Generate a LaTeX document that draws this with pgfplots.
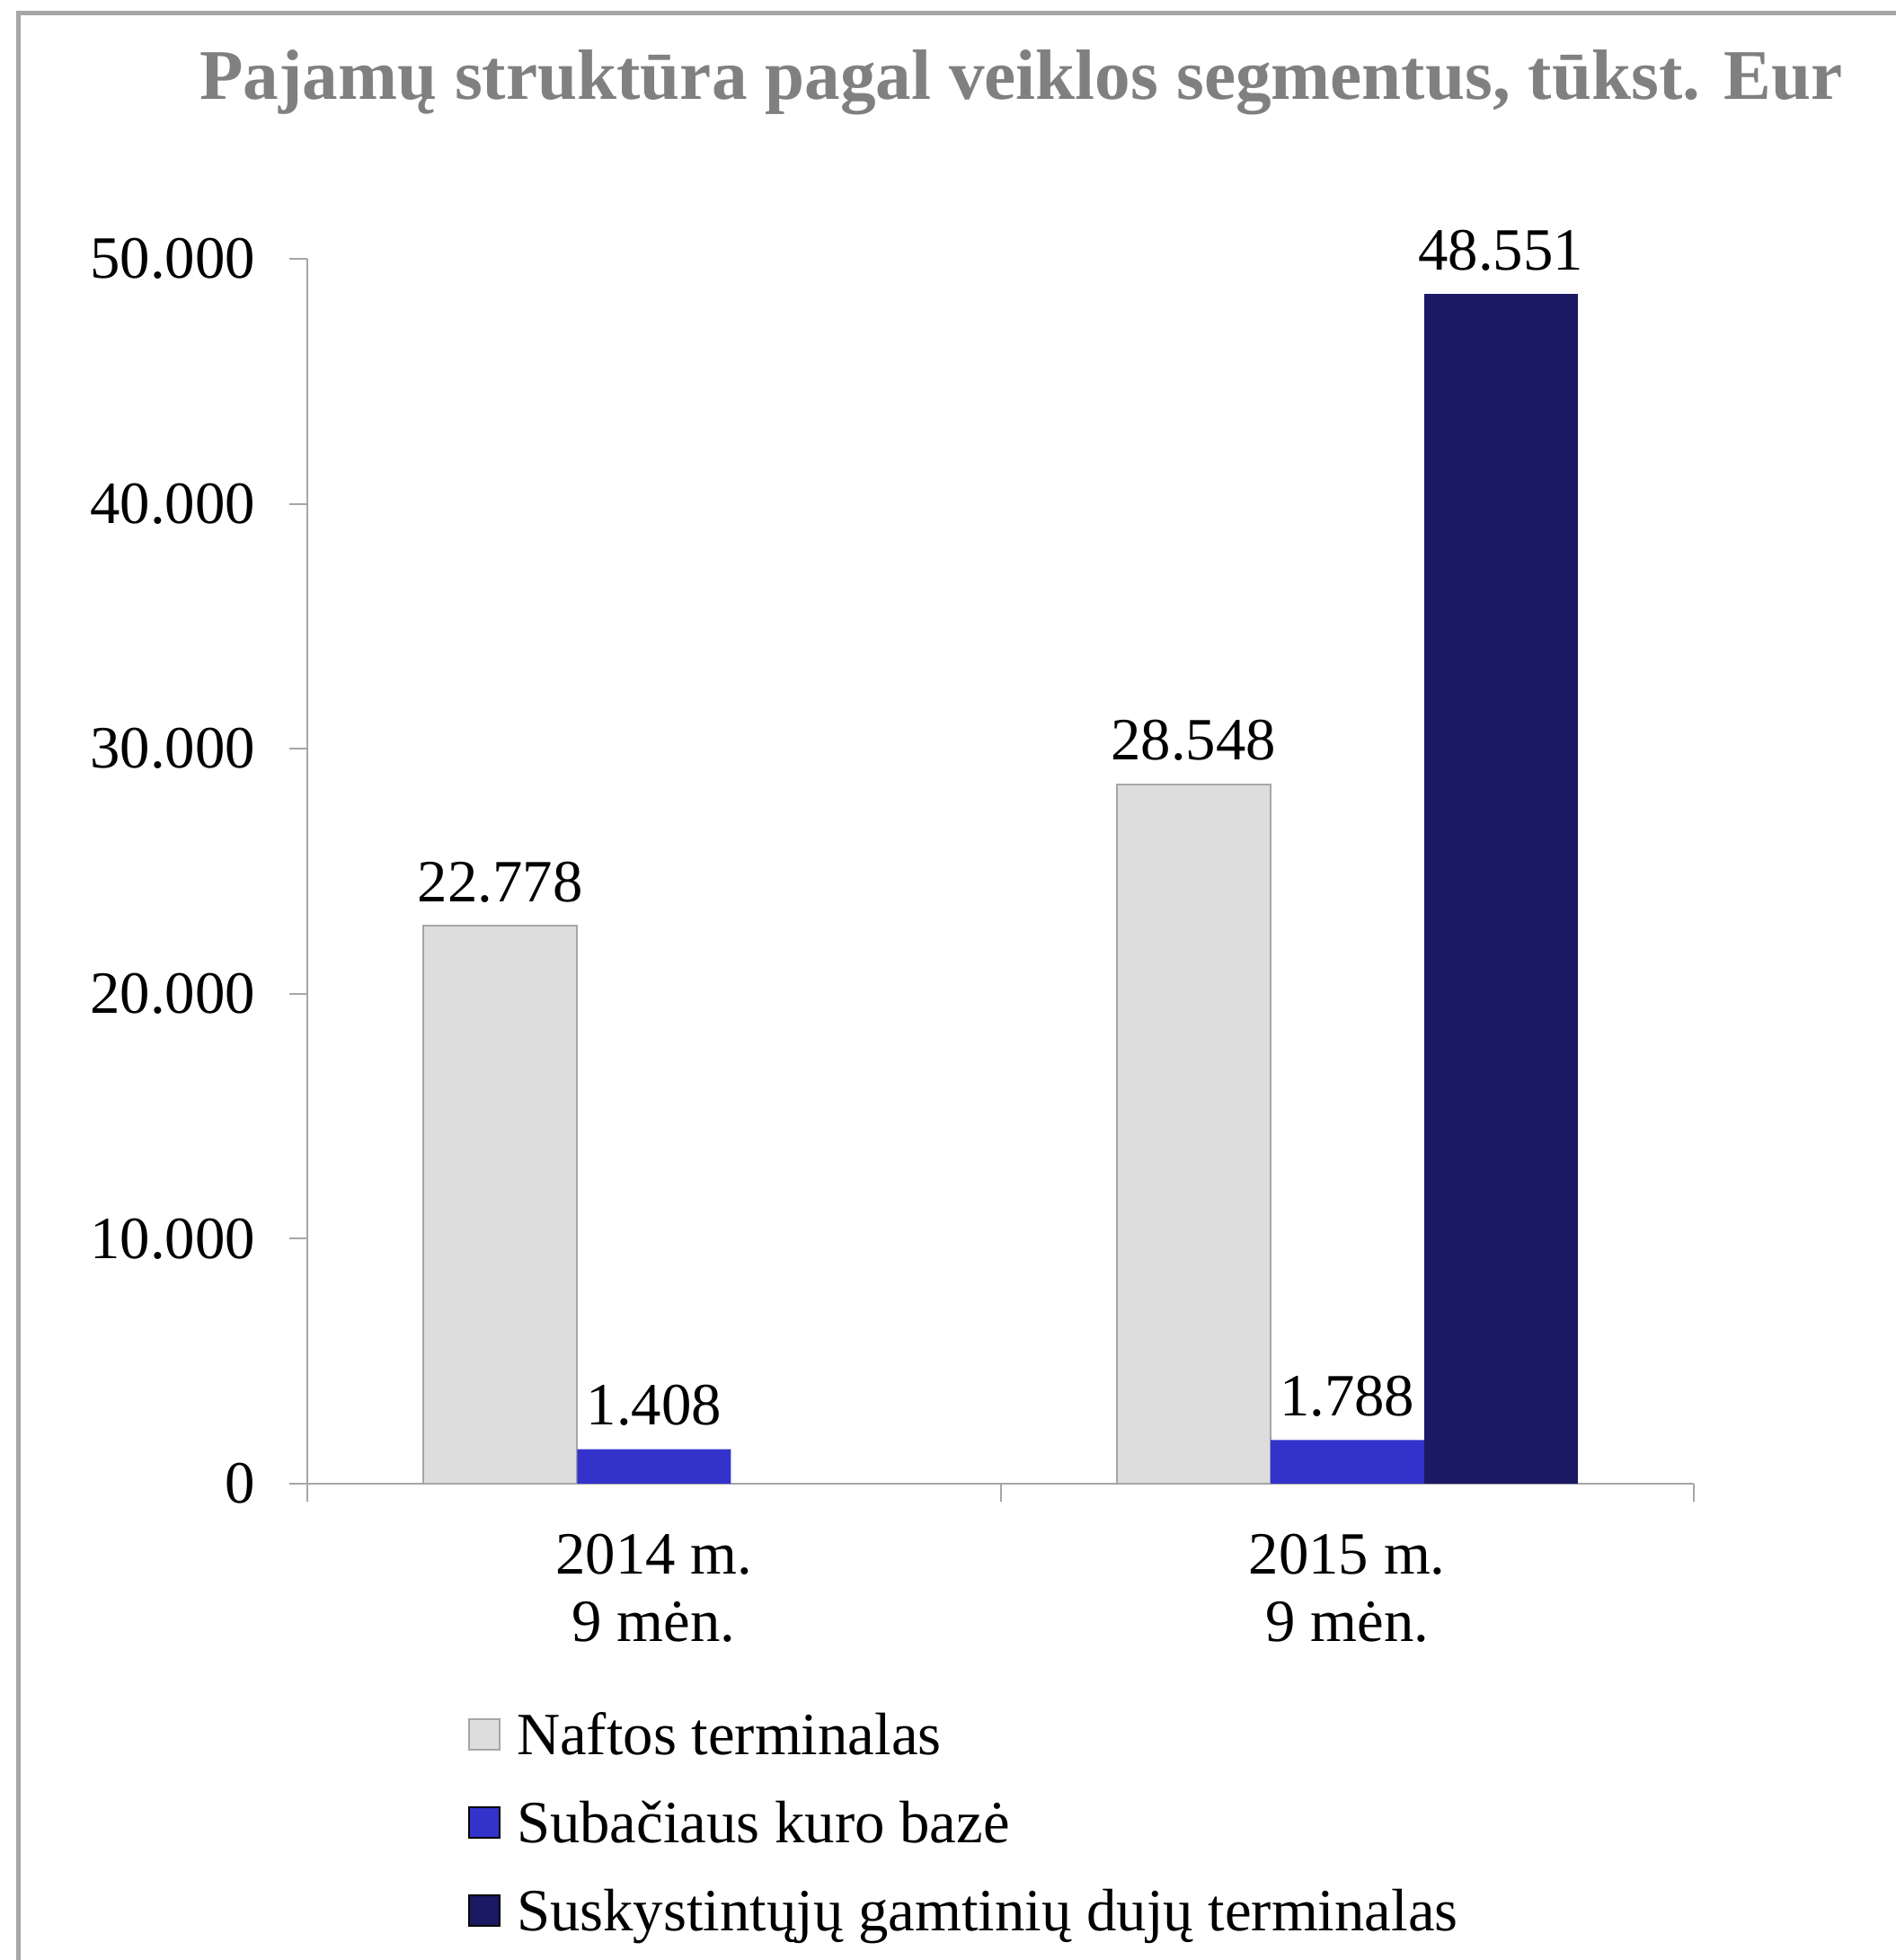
\documentclass[border=0pt]{standalone}
\usepackage{pgfplots}
\pgfplotsset{compat=1.18}
\usepackage{fontspec}
\setmainfont{Liberation Serif}

\definecolor{naftos}{RGB}{221,221,221}
\definecolor{subac}{RGB}{51,51,204}
\definecolor{sgd}{RGB}{27,25,99}
\definecolor{axisgray}{RGB}{166,166,166}
\definecolor{titlegray}{RGB}{128,128,128}

\newcommand{\lblfont}{\fontsize{13.4}{15}\selectfont}

\begin{document}
\begin{tikzpicture}
\useasboundingbox (0,0) rectangle (422bp,436.2bp);
% chart frame (cropped)
\draw[axisgray, line width=1bp] (4.1bp,0) -- (4.1bp,433.2bp) -- (422bp,433.2bp);
\node[anchor=base, font=\fontsize{15.9}{18}\selectfont\bfseries, text=titlegray]
  at (227.3bp,414bp) {Pajamų struktūra pagal veiklos segmentus, tūkst. Eur};

\begin{axis}[
  at={(68.4bp,106bp)}, anchor=south west,
  scale only axis, width=308.6bp, height=272.6bp,
  ybar=0pt, bar width=34.2bp,
  xmin=0, xmax=2, ymin=0, ymax=50000,
  axis lines*=left,
  axis line style={axisgray, line width=0.5bp},
  tick style={axisgray, line width=0.4bp},
  tick align=outside, major tick length=3.9bp,
  xtick={0,1,2}, xticklabels={},
  extra x ticks={0.5,1.5},
  extra x tick labels={{2014 m.\\9 mėn.},{2015 m.\\9 mėn.}},
  extra x tick style={major tick length=0pt,
    xticklabel style={align=center, font=\lblfont, inner sep=0pt, yshift=-11bp}},
  ytick={0,10000,20000,30000,40000,50000},
  scaled y ticks=false,
  yticklabel style={font=\lblfont, inner sep=0pt, xshift=-7.5bp},
  /pgf/number format/.cd, fixed, 1000 sep={.}, assume math mode=true,
  /pgfplots/.cd,
  nodes near coords,
  nodes near coords style={font=\lblfont, inner sep=0pt, anchor=south, yshift=5bp, text=black},
  legend cell align=left,
  legend style={at={(axis description cs:0.1154,-0.182)}, anchor=north west,
    draw=none, fill=none, inner sep=0pt, row sep=7.65bp, font=\lblfont,
    nodes={inner sep=0pt}, /tikz/every odd column/.style={column sep=3.6bp}},
  legend image code/.code={\draw[#1] (0bp,-3.4bp) rectangle (6.8bp,3.4bp);},
]
\addplot[fill=naftos, draw=axisgray, line width=0.4bp] coordinates {(0.5,22778) (1.5,28548)};
\addlegendentry{Naftos terminalas\strut}
\addplot[fill=subac, draw=none] coordinates {(0.5,1408) (1.5,1788)};
\addlegendentry{Subačiaus kuro bazė\strut}
\addplot[fill=sgd, draw=none] coordinates {(1.5,48551)};
\addlegendentry{Suskystintųjų gamtinių dujų terminalas\strut}
\end{axis}
\end{tikzpicture}
\end{document}
